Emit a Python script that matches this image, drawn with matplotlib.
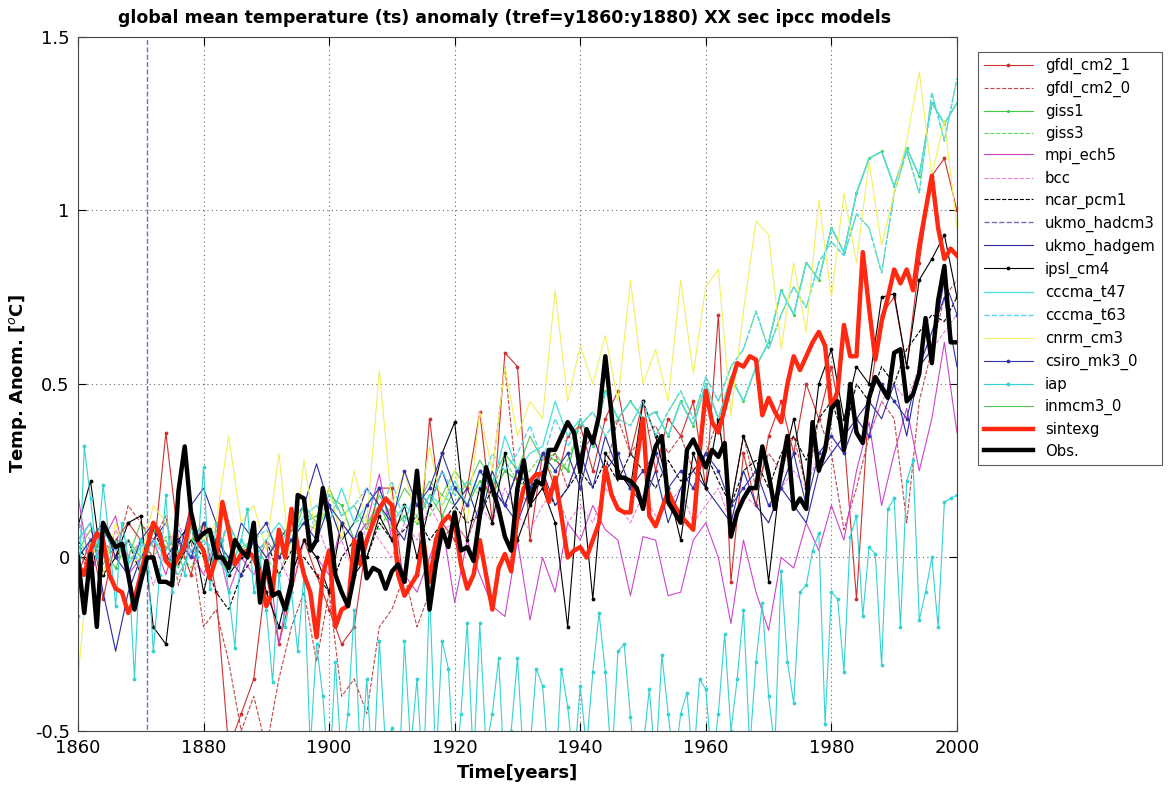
import matplotlib
matplotlib.use('Agg')
import matplotlib.pyplot as plt
import numpy as np

plt.rcParams['font.family'] = ['DejaVu Sans']

# annual years and a 2-year grid for the thinner model curves
years = list(range(1860, 2001))
years2 = list(range(1860, 2001, 2))

# observed anomaly (thick black)
obs = [0.00, -0.16, 0.01, -0.20, 0.10, 0.06, 0.03, 0.04, -0.05, -0.15,
       -0.07, 0.00, 0.00, -0.07, -0.07, -0.08, 0.19, 0.32, 0.13, 0.05,
       0.07, 0.08, 0.00, 0.00, -0.03, 0.05, 0.02, 0.00, 0.10, -0.13,
       -0.01, -0.11, -0.10, -0.15, -0.08, 0.18, 0.17, 0.02, 0.05, 0.20,
       0.10, -0.05, -0.10, -0.14, -0.05, 0.07, -0.06, -0.03, -0.04, -0.09,
       -0.04, -0.02, -0.07, 0.08, 0.25, 0.05, -0.15, -0.02, 0.08, 0.03,
       0.13, 0.02, 0.03, -0.01, 0.12, 0.26, 0.20, 0.14, 0.06, 0.02,
       0.20, 0.28, 0.16, 0.22, 0.21, 0.31, 0.31, 0.35, 0.39, 0.36,
       0.25, 0.37, 0.33, 0.41, 0.58, 0.41, 0.23, 0.23, 0.22, 0.20,
       0.14, 0.25, 0.32, 0.35, 0.16, 0.13, 0.10, 0.31, 0.34, 0.30,
       0.26, 0.31, 0.29, 0.33, 0.06, 0.13, 0.17, 0.20, 0.20, 0.32,
       0.24, 0.14, 0.25, 0.35, 0.14, 0.17, 0.14, 0.39, 0.25, 0.31,
       0.43, 0.45, 0.31, 0.50, 0.36, 0.33, 0.46, 0.52, 0.49, 0.46,
       0.59, 0.60, 0.45, 0.47, 0.53, 0.69, 0.56, 0.74, 0.84, 0.62,
       0.62]

# sintexg (thick red)
sintexg = [-0.02, -0.05, 0.02, 0.07, 0.05, -0.05, -0.09, -0.10, -0.16, -0.12,
           -0.05, 0.03, 0.10, 0.07, -0.01, -0.03, 0.00, 0.03, 0.13, 0.05,
           0.02, -0.06, 0.00, 0.16, 0.08, -0.02, 0.01, 0.02, 0.00, -0.05,
           -0.14, -0.10, 0.08, 0.00, 0.14, 0.03, -0.05, -0.10, -0.23, -0.05,
           0.02, -0.20, -0.15, -0.14, 0.05, -0.02, 0.05, 0.10, 0.14, 0.17,
           0.15, -0.05, -0.11, -0.08, -0.05, 0.05, -0.07, 0.05, 0.10, 0.12,
           0.10, -0.02, -0.09, -0.05, 0.05, -0.05, -0.15, -0.03, 0.01, -0.04,
           0.12, 0.20, 0.22, 0.24, 0.24, 0.16, 0.23, 0.12, 0.00, 0.02,
           0.03, 0.00, 0.05, 0.10, 0.26, 0.18, 0.14, 0.13, 0.13, 0.28,
           0.40, 0.12, 0.09, 0.14, 0.19, 0.15, 0.12, 0.10, 0.08, 0.30,
           0.48, 0.39, 0.36, 0.43, 0.50, 0.56, 0.55, 0.58, 0.57, 0.41,
           0.46, 0.42, 0.39, 0.50, 0.58, 0.54, 0.58, 0.62, 0.65, 0.61,
           0.43, 0.48, 0.67, 0.58, 0.58, 0.88, 0.72, 0.57, 0.68, 0.75,
           0.83, 0.79, 0.83, 0.77, 0.90, 1.00, 1.10, 0.95, 0.86, 0.89,
           0.87]

# iap (cyan with dots, strong sawtooth)
iap = [-0.17, 0.32, 0.17, 0.00, 0.21, 0.05, -0.14, 0.10, 0.00, -0.35,
       0.05, 0.02, -0.27, -0.05, 0.18, -0.10, 0.02, -0.05, 0.10, 0.00,
       0.26, -0.09, 0.10, 0.05, -0.10, -0.26, 0.05, 0.14, -0.10, 0.00,
       -0.15, -0.36, -0.05, -0.20, -0.10, -0.27, -0.05, -0.55, -0.25, -0.40,
       -0.65, -0.30, -0.60, -0.45, -0.15, -0.60, -0.35, -0.65, -0.24, -0.55,
       -0.49, -0.70, -0.24, -0.55, -0.35, -0.65, -0.09, -0.60, -0.24, -0.32,
       -0.65, -0.45, -0.19, -0.60, -0.19, -0.55, -0.45, -0.29, -0.65, -0.50,
       -0.29, -0.60, -0.55, -0.32, -0.37, -0.60, -0.65, -0.32, -0.43, -0.60,
       -0.37, -0.55, -0.33, -0.16, -0.33, -0.60, -0.27, -0.25, -0.46, -0.65,
       -0.55, -0.38, -0.60, -0.28, -0.45, -0.60, -0.45, -0.39, -0.60, -0.35,
       -0.38, -0.60, -0.45, -0.22, -0.50, -0.35, -0.15, -0.55, -0.30, -0.13,
       -0.40, -0.55, -0.04, -0.30, -0.42, -0.10, -0.08, 0.02, 0.07, -0.48,
       -0.10, -0.12, -0.33, 0.06, 0.12, -0.17, 0.03, 0.01, -0.31, 0.14,
       0.17, -0.20, 0.22, 0.28, -0.18, -0.10, 0.00, -0.20, 0.16, 0.17,
       0.18]

# the other models, read every second year
gfdl_cm2_1 = [-0.05, 0.05, -0.12, 0.05, 0.10, 0.05, 0.00, 0.36, 0.05, -0.05,
              0.10, -0.10, -0.55, -0.45, -0.35, -0.05, -0.25, -0.10, 0.05, -0.05,
              -0.15, -0.25, -0.20, 0.05, 0.20, 0.20, -0.10, -0.05, 0.40, 0.10,
              0.05, 0.20, 0.42, 0.10, 0.59, 0.55, 0.05, 0.30, 0.20, 0.35,
              0.38, 0.25, 0.40, 0.48, 0.30, 0.45, 0.25, 0.40, 0.35, 0.45,
              0.20, 0.70, -0.07, 0.30, 0.15, 0.35, 0.45, 0.30, 0.50, 0.40,
              0.55, 0.35, -0.12, 0.45, 0.70, 0.75, 0.55, 0.85, 1.10, 1.15,
              1.00]
gfdl_cm2_0 = [0.02, -0.05, 0.05, 0.00, 0.15, 0.10, 0.05, 0.12, -0.08, 0.05,
              -0.20, -0.15, -0.30, -0.50, -0.40, -0.55, -0.35, -0.20, -0.10, -0.30,
              -0.10, -0.40, -0.35, -0.45, -0.20, -0.15, -0.05, -0.20, -0.10, 0.05,
              0.10, 0.05, 0.15, 0.25, 0.55, 0.20, 0.15, 0.25, 0.30, 0.20,
              0.30, 0.35, 0.25, 0.40, 0.30, 0.35, 0.38, 0.30, 0.35, 0.25,
              0.30, 0.40, 0.15, 0.35, 0.20, 0.30, 0.25, 0.35, 0.20, 0.40,
              0.30, 0.08, 0.20, 0.35, 0.45, 0.40, 0.10, 0.45, 0.60, 0.75,
              0.80]
giss1 = [0.00, 0.05, 0.02, -0.03, 0.05, 0.00, 0.08, 0.03, 0.00, 0.05,
         0.10, 0.02, -0.05, 0.05, 0.00, 0.05, 0.00, 0.08, 0.10, 0.12,
         0.18, 0.15, 0.05, 0.10, 0.15, 0.08, 0.12, 0.10, 0.18, 0.12,
         0.20, 0.15, 0.22, 0.18, 0.25, 0.22, 0.20, 0.30, 0.28, 0.25,
         0.40, 0.32, 0.48, 0.40, 0.45, 0.40, 0.42, 0.35, 0.45, 0.38,
         0.50, 0.40, 0.52, 0.45, 0.55, 0.62, 0.77, 0.70, 0.85, 0.80,
         0.95, 0.88, 1.05, 1.15, 1.17, 1.07, 1.18, 1.10, 1.31, 1.25,
         1.31]
giss3 = [0.05, 0.00, 0.08, 0.03, -0.02, 0.05, 0.00, 0.06, 0.02, -0.03,
         0.05, 0.08, -0.02, 0.03, 0.05, 0.00, -0.05, 0.05, 0.10, 0.08,
         0.15, 0.05, 0.10, 0.12, 0.08, 0.15, 0.10, 0.20, 0.12, 0.18,
         0.15, 0.22, 0.18, 0.20, 0.28, 0.22, 0.25, 0.30, 0.22, 0.28,
         0.38, 0.42, 0.35, 0.40, 0.38, 0.45, 0.35, 0.42, 0.48, 0.40,
         0.52, 0.45, 0.55, 0.60, 0.71, 0.60, 0.70, 0.78, 0.72, 0.85,
         0.91, 0.87, 0.99, 0.95, 0.82, 1.05, 1.17, 1.05, 1.34, 1.20,
         1.38]
mpi_ech5 = [0.18, -0.05, 0.05, 0.12, -0.05, 0.00, 0.05, -0.05, 0.08, 0.02,
            -0.05, 0.05, -0.10, 0.00, -0.05, 0.05, -0.25, -0.05, 0.05, 0.00,
            -0.05, 0.10, 0.05, 0.10, 0.24, 0.05, -0.05, -0.10, 0.00, 0.10,
            -0.13, 0.05, -0.05, -0.14, -0.17, 0.05, -0.18, 0.00, -0.10, 0.10,
            0.05, 0.15, 0.08, 0.05, -0.11, 0.06, 0.05, -0.11, -0.10, 0.05,
            0.10, 0.00, -0.19, 0.05, -0.10, -0.21, 0.00, -0.03, 0.10, 0.02,
            0.15, 0.05, 0.25, 0.39, 0.15, 0.30, 0.43, 0.25, 0.40, 0.62,
            0.36]
bcc = [0.10, 0.05, -0.05, 0.08, 0.00, 0.05, -0.08, 0.02, 0.10, 0.00,
       -0.05, 0.05, -0.10, 0.00, -0.05, 0.05, 0.00, -0.08, 0.05, 0.10,
       0.00, 0.05, -0.05, 0.10, 0.05, 0.00, 0.10, 0.05, 0.15, 0.08,
       0.10, 0.05, 0.15, 0.10, 0.20, 0.12, 0.08, 0.15, 0.20, 0.10,
       0.15, 0.10, 0.20, 0.15, 0.10, 0.18, 0.12, 0.15, 0.20, 0.10,
       0.15, 0.20, 0.10, 0.18, 0.15, 0.10, 0.20, 0.25, 0.20, 0.30,
       0.35, 0.30, 0.40, 0.35, 0.45, 0.50, 0.45, 0.55, 0.60, 0.65,
       0.70]
ncar_pcm1 = [0.05, -0.05, 0.10, 0.00, 0.05, -0.05, 0.08, 0.00, -0.02, 0.05,
             0.00, -0.10, -0.15, -0.05, 0.00, 0.05, -0.05, 0.02, 0.00, -0.05,
             -0.10, 0.00, 0.05, 0.00, 0.10, 0.05, 0.08, 0.12, 0.05, 0.10,
             0.15, 0.10, 0.12, 0.20, 0.15, 0.25, 0.18, 0.22, 0.15, 0.20,
             0.25, 0.20, 0.28, 0.22, 0.30, 0.25, 0.20, 0.28, 0.22, 0.25,
             0.30, 0.22, 0.15, 0.25, 0.28, 0.20, 0.30, 0.35, 0.28, 0.40,
             0.45, 0.35, 0.50, 0.45, 0.55, 0.50, 0.60, 0.65, 0.70, 0.68,
             0.75]
ukmo_hadgem = [0.05, 0.10, -0.10, -0.27, -0.10, 0.00, 0.05, 0.10, 0.00, 0.15,
               0.20, 0.10, -0.05, 0.10, 0.05, 0.00, 0.05, 0.10, 0.15, 0.27,
               0.15, 0.05, 0.10, 0.20, 0.15, 0.10, 0.05, 0.20, 0.15, 0.25,
               0.15, 0.20, 0.10, 0.25, 0.15, 0.10, 0.20, 0.25, 0.15, 0.20,
               0.30, 0.20, 0.35, 0.25, 0.20, 0.15, 0.25, 0.10, 0.20, 0.25,
               0.20, 0.15, 0.10, 0.25, 0.15, 0.10, 0.20, 0.15, 0.10, 0.25,
               0.30, 0.35, 0.40, 0.45, 0.40, 0.50, 0.35, 0.55, 0.65, 0.75,
               0.55]
ipsl_cm4 = [0.09, 0.22, -0.05, 0.00, 0.10, 0.12, -0.20, -0.25, 0.05, 0.10,
            -0.10, 0.05, -0.05, 0.00, 0.05, -0.10, -0.20, -0.05, 0.05, 0.00,
            -0.10, 0.10, -0.05, 0.00, 0.12, 0.05, 0.15, 0.00, 0.15, 0.30,
            0.39, 0.05, 0.20, 0.10, 0.30, 0.05, 0.15, 0.20, 0.10, -0.20,
            0.25, -0.12, 0.30, 0.25, 0.20, 0.45, 0.35, 0.20, 0.05, 0.30,
            0.20, 0.40, 0.15, 0.35, 0.25, -0.07, 0.25, 0.40, 0.20, 0.50,
            0.60, 0.40, 0.55, 0.50, 0.75, 0.76, 0.55, 0.80, 0.86, 0.93,
            0.75]
cccma_t47 = [0.05, 0.10, 0.00, 0.05, -0.02, 0.03, 0.05, 0.00, -0.05, 0.02,
             0.05, 0.00, -0.05, 0.05, 0.00, 0.05, 0.10, 0.05, 0.12, 0.15,
             0.10, 0.20, 0.10, 0.15, 0.20, 0.10, 0.15, 0.12, 0.18, 0.15,
             0.22, 0.15, 0.25, 0.20, 0.35, 0.25, 0.30, 0.32, 0.45, 0.35,
             0.40, 0.32, 0.48, 0.40, 0.45, 0.40, 0.42, 0.35, 0.45, 0.38,
             0.50, 0.40, 0.52, 0.45, 0.55, 0.62, 0.77, 0.70, 0.85, 0.80,
             0.95, 0.88, 1.05, 1.15, 1.17, 1.07, 1.18, 1.10, 1.31, 1.25,
             1.31]
cccma_t63 = [0.10, 0.00, 0.08, 0.02, 0.05, -0.03, 0.05, 0.02, 0.08, 0.00,
             0.05, 0.02, 0.10, 0.00, 0.05, 0.08, 0.03, 0.10, 0.15, 0.08,
             0.18, 0.12, 0.15, 0.20, 0.12, 0.22, 0.10, 0.20, 0.15, 0.25,
             0.18, 0.22, 0.20, 0.30, 0.25, 0.30, 0.38, 0.28, 0.40, 0.32,
             0.38, 0.42, 0.35, 0.40, 0.38, 0.45, 0.35, 0.42, 0.48, 0.40,
             0.52, 0.45, 0.55, 0.60, 0.71, 0.60, 0.70, 0.78, 0.72, 0.85,
             0.91, 0.87, 0.99, 0.95, 0.82, 1.05, 1.17, 1.05, 1.34, 1.20,
             1.38]
cnrm_cm3 = [-0.35, 0.05, -0.05, 0.10, -0.02, 0.00, 0.15, 0.10, 0.00, 0.08,
            0.05, 0.10, 0.35, 0.10, 0.15, 0.02, 0.30, -0.05, 0.28, 0.05,
            0.20, 0.05, 0.25, 0.10, 0.54, 0.15, 0.25, 0.10, 0.32, 0.15,
            0.25, 0.10, 0.42, 0.25, 0.55, 0.35, 0.45, 0.40, 0.77, 0.45,
            0.61, 0.50, 0.64, 0.45, 0.80, 0.50, 0.60, 0.45, 0.80, 0.53,
            0.78, 0.83, 0.41, 0.71, 0.97, 0.93, 0.60, 0.85, 0.65, 1.03,
            0.75, 1.05, 0.85, 1.14, 0.90, 1.05, 1.20, 1.40, 1.10, 1.26,
            0.95]
csiro_mk3_0 = [0.00, 0.05, 0.10, 0.00, -0.05, 0.05, 0.10, 0.00, 0.05, 0.00,
               0.10, 0.05, 0.00, -0.05, 0.05, 0.10, 0.00, 0.05, 0.10, 0.05,
               0.15, 0.10, 0.05, 0.15, 0.20, 0.10, 0.25, 0.15, 0.20, 0.30,
               0.20, 0.15, 0.25, 0.20, 0.15, 0.25, 0.20, 0.30, 0.25, 0.30,
               0.20, 0.35, 0.25, 0.30, 0.20, 0.25, 0.30, 0.20, 0.25, 0.20,
               0.30, 0.25, 0.15, 0.20, 0.25, 0.15, 0.20, 0.30, 0.15, 0.30,
               0.35, 0.30, 0.40, 0.35, 0.50, 0.45, 0.40, 0.55, 0.60, 0.80,
               0.70]
inmcm3_0 = [0.02, 0.08, -0.02, 0.05, 0.00, 0.10, 0.03, 0.05, -0.03, 0.08,
            0.05, 0.00, 0.10, 0.02, 0.05, -0.02, 0.08, 0.05, 0.15, 0.10,
            0.20, 0.12, 0.15, 0.08, 0.18, 0.12, 0.20, 0.15, 0.22, 0.18,
            0.25, 0.20, 0.28, 0.22, 0.30, 0.25, 0.35, 0.28, 0.30, 0.25,
            0.40, 0.32, 0.48, 0.40, 0.45, 0.40, 0.42, 0.35, 0.45, 0.38,
            0.50, 0.40, 0.52, 0.45, 0.55, 0.62, 0.77, 0.70, 0.85, 0.80,
            0.95, 0.88, 1.05, 1.15, 1.17, 1.07, 1.18, 1.10, 1.31, 1.25,
            1.31]
# ukmo_hadcm3 only shows up as a vertical dashed line
hadcm3_x = [1871, 1871]
hadcm3_y = [-0.6, 1.6]

fig = plt.figure(figsize=(11.69, 7.85), dpi=100)
ax = fig.add_axes([0.0667, 0.0688, 0.7519, 0.8841])

thin = 0.8
ax.plot(years2, gfdl_cm2_1, color='#d03030', lw=thin, marker='.', ms=3.5, label='gfdl_cm2_1')
ax.plot(years2, gfdl_cm2_0, color='#c04848', lw=thin, ls='--', label='gfdl_cm2_0')
# green runs mostly sit underneath the cccma curves
ax.plot(years2, giss1, color='#40cc40', lw=thin, marker='.', ms=2.5, label='giss1', zorder=1.5)
ax.plot(years2, giss3, color='#55dd55', lw=thin, ls='--', label='giss3', zorder=1.5)
ax.plot(years2, mpi_ech5, color='#cc44cc', lw=thin, label='mpi_ech5')
ax.plot(years2, bcc, color='#ee80dd', lw=thin, ls='--', label='bcc')
ax.plot(years2, ncar_pcm1, color='black', lw=thin, ls='--', label='ncar_pcm1')
ax.plot(hadcm3_x, hadcm3_y, color='#7070b8', lw=1.0, ls='--', label='ukmo_hadcm3')
ax.plot(years2, ukmo_hadgem, color='#2a2aa0', lw=thin, label='ukmo_hadgem')
ax.plot(years2, ipsl_cm4, color='black', lw=thin, marker='.', ms=3.5, label='ipsl_cm4')
ax.plot(years2, cccma_t47, color='#55e0e0', lw=1.0, label='cccma_t47')
ax.plot(years2, cccma_t63, color='#55d5f0', lw=1.0, ls='--', label='cccma_t63')
ax.plot(years2, cnrm_cm3, color='#f2f060', lw=thin, label='cnrm_cm3')
ax.plot(years2, csiro_mk3_0, color='#3333aa', lw=thin, marker='.', ms=3.5, label='csiro_mk3_0')
ax.plot(years, iap, color='#35d2d2', lw=thin, marker='.', ms=3.5, label='iap')
ax.plot(years2, inmcm3_0, color='#55cc55', lw=thin, label='inmcm3_0', zorder=1.5)
ax.plot(years, sintexg, color='#ff2810', lw=3.2, label='sintexg')
ax.plot(years, obs, color='black', lw=3.2, label='Obs.')

ax.set_xlim(1860, 2000)
ax.set_ylim(-0.5, 1.5)
ax.set_xticks(range(1860, 2001, 20))
ax.set_yticks([-0.5, 0, 0.5, 1, 1.5])
ax.set_yticklabels(['-0.5', '0', '0.5', '1', '1.5'])
ax.tick_params(direction='in', length=6, labelsize=13, top=True, right=True, pad=6)
ax.grid(True, ls=(0, (1, 3)), color='#666666', lw=0.8)
for s in ax.spines.values():
    s.set_color('#444444')

ax.set_title('global mean temperature (ts) anomaly (tref=y1860:y1880) XX sec ipcc models',
             fontsize=12.5, fontweight='bold', pad=10, x=0.485)
ax.set_xlabel('Time[years]', fontsize=13, fontweight='bold', labelpad=5)
ax.set_ylabel(r'Temp. Anom. [$^o$C]', fontsize=13, fontweight='bold', labelpad=4)

leg = fig.legend(loc='upper left', bbox_to_anchor=(978 / 1169, 1 - 52 / 785),
                 fontsize=10.7, handlelength=3.3, frameon=True, fancybox=False,
                 edgecolor='#333333', borderaxespad=0, labelspacing=0.46)
leg.get_frame().set_linewidth(0.8)

fig.savefig('out.png', dpi=100)
